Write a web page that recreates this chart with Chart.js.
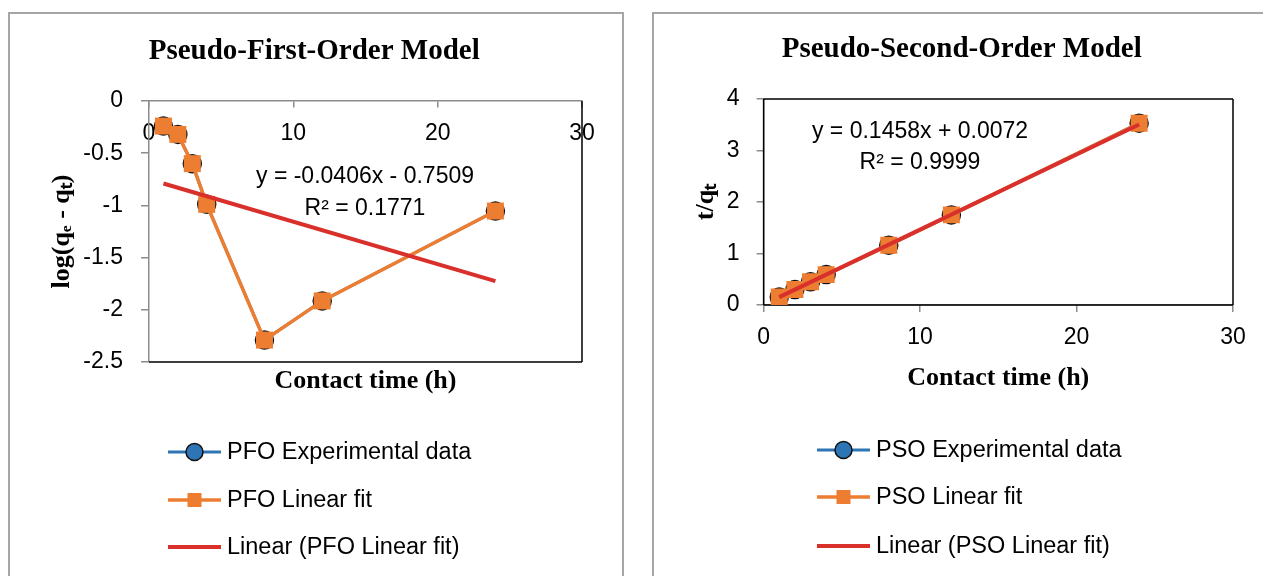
<!DOCTYPE html>
<html>
<head>
<meta charset="utf-8">
<script src="https://cdn.jsdelivr.net/npm/chart.js@4.4.1/dist/chart.umd.min.js"></script>
<style>
  html, body { margin: 0; padding: 0; background: #fff; }
  body { width: 1263px; height: 576px; overflow: hidden; position: relative; }
  .frame { position: absolute; border: 2px solid #a6a6a6; box-sizing: border-box; }
  #frameL { left: 8px; top: 12px; width: 616px; height: 600px; }
  #frameR { left: 652px; top: 12px; width: 700px; height: 600px; }
  .box { position: absolute; top: 0; height: 576px; }
  #boxL { left: 0; width: 635px; }
  #boxR { left: 640px; width: 623px; }
</style>
</head>
<body>
<div class="frame" id="frameL"></div>
<div class="frame" id="frameR"></div>
<div class="box" id="boxL"><canvas id="pfoChart"></canvas></div>
<div class="box" id="boxR"><canvas id="psoChart"></canvas></div>

<script>
// contact time (h)
const contactTime = [1, 2, 3, 4, 8, 12, 24];

// pseudo-first-order: log(qe - qt)
const pfoValues = [-0.24, -0.32, -0.60, -0.99, -2.29, -1.915, -1.054];
const pfoTrendTime = [1, 24];
const pfoTrendValues = [-0.79, -1.725];

// pseudo-second-order: t/qt
const psoValues = [0.155, 0.30, 0.45, 0.59, 1.16, 1.75, 3.53];
const psoTrendTime = [1, 24];
const psoTrendValues = [0.153, 3.506];

const xTicks = [0, 10, 20, 30];
const pfoYTicks = [0, -0.5, -1, -1.5, -2, -2.5];
const psoYTicks = [0, 1, 2, 3, 4];

const SANS = '"Liberation Sans", Arial, sans-serif';
const SERIF = '"Liberation Serif", "Times New Roman", serif';
const BLUE = '#2E75B6', ORANGE = '#ED7D31', RED = '#D9302C';
const AXIS_GRAY = '#8c8c8c';

Chart.defaults.font.family = SANS;
Chart.defaults.font.size = 23;
Chart.defaults.color = '#000';

const pts = (xs, ys) => xs.map((x, i) => ({ x: x, y: ys[i] }));

function makeDatasets(prefix, values, trendX, trendY) {
  return [
    {
      label: prefix + ' Experimental data',
      data: pts(contactTime, values),
      showLine: true,
      borderColor: BLUE, borderWidth: 3,
      pointStyle: 'circle', pointRadius: 9,
      pointBackgroundColor: BLUE, pointBorderColor: '#111', pointBorderWidth: 1.5,
      order: 3
    },
    {
      label: prefix + ' Linear fit',
      data: pts(contactTime, values),
      showLine: true,
      borderColor: ORANGE, borderWidth: 3.5,
      pointStyle: 'rect', pointRadius: 12,
      pointBackgroundColor: ORANGE, pointBorderColor: ORANGE, pointBorderWidth: 0,
      order: 2
    },
    {
      label: 'Linear (' + prefix + ' Linear fit)',
      data: pts(trendX, trendY),
      showLine: true,
      borderColor: RED, borderWidth: 4,
      pointRadius: 0,
      order: 1
    }
  ];
}

// border around the plot area (Excel-style)
const plotFrame = {
  id: 'plotFrame',
  beforeDatasetsDraw(chart, args, opts) {
    const { ctx, chartArea: a } = chart;
    ctx.save();
    ctx.strokeStyle = '#000';
    ctx.lineWidth = 1.5;
    ctx.beginPath();
    (opts.sides || []).forEach(s => {
      if (s === 'top') { ctx.moveTo(a.left, a.top); ctx.lineTo(a.right, a.top); }
      if (s === 'bottom') { ctx.moveTo(a.left, a.bottom); ctx.lineTo(a.right, a.bottom); }
      if (s === 'left') { ctx.moveTo(a.left, a.top); ctx.lineTo(a.left, a.bottom); }
      if (s === 'right') { ctx.moveTo(a.right, a.top); ctx.lineTo(a.right, a.bottom); }
    });
    ctx.stroke();
    ctx.restore();
  }
};

// trendline equation labels
const equationText = {
  id: 'equationText',
  afterDatasetsDraw(chart, args, opts) {
    const ctx = chart.ctx;
    ctx.save();
    ctx.font = '23px ' + SANS;
    ctx.fillStyle = '#000';
    ctx.textAlign = 'center';
    ctx.textBaseline = 'middle';
    (opts.lines || []).forEach(l => ctx.fillText(l.text, l.x, l.y));
    ctx.restore();
  }
};

// legend with line + marker symbols, stacked vertically
const lineLegend = {
  id: 'lineLegend',
  afterDraw(chart, args, opts) {
    const ctx = chart.ctx;
    ctx.save();
    chart.data.datasets.forEach((ds, i) => {
      const y = opts.rows[i], x0 = opts.x, x1 = opts.x + 53, xm = (x0 + x1) / 2;
      ctx.strokeStyle = ds.borderColor;
      ctx.lineWidth = ds.borderWidth;
      ctx.beginPath(); ctx.moveTo(x0, y); ctx.lineTo(x1, y); ctx.stroke();
      if (ds.pointStyle === 'circle') {
        ctx.fillStyle = ds.pointBackgroundColor;
        ctx.strokeStyle = ds.pointBorderColor;
        ctx.lineWidth = 1.5;
        ctx.beginPath(); ctx.arc(xm, y, 8.5, 0, Math.PI * 2); ctx.fill(); ctx.stroke();
      } else if (ds.pointStyle === 'rect') {
        ctx.fillStyle = ds.pointBackgroundColor;
        ctx.fillRect(xm - 7, y - 7, 14, 14);
      }
      ctx.font = '23.5px ' + SANS;
      ctx.fillStyle = '#000';
      ctx.textBaseline = 'middle';
      ctx.textAlign = 'left';
      ctx.fillText(ds.label, x1 + 6, y + 1);
    });
    ctx.restore();
  }
};

const titleFont = { family: SERIF, size: 29, weight: 'bold' };
const axisTitleFont = { family: SERIF, size: 26, weight: 'bold' };

function tickGrid(len) {
  return { display: true, drawOnChartArea: false, drawTicks: true, tickLength: len, color: AXIS_GRAY, lineWidth: 1.5 };
}
const grayBorder = { display: true, color: AXIS_GRAY, width: 1.5 };
const noPadX = s => { s.paddingLeft = 0; s.paddingRight = 0; };
const noPadY = s => { s.paddingTop = 0; s.paddingBottom = 0; };

// ---- Pseudo-first-order ----
new Chart(document.getElementById('pfoChart'), {
  type: 'scatter',
  data: { datasets: makeDatasets('PFO', pfoValues, pfoTrendTime, pfoTrendValues).map(d => Object.assign(d, { xAxisID: 'x', yAxisID: 'y' })) },
  options: {
    responsive: true,
    maintainAspectRatio: false,
    animation: false,
    layout: { padding: { left: 46.4, right: 53, top: 0, bottom: 179 } },
    plugins: {
      legend: { display: false },
      tooltip: { enabled: false },
      title: { display: true, text: 'Pseudo-First-Order Model', font: titleFont, color: '#000', padding: { top: 34.6, bottom: 31.6 } },
      plotFrame: { sides: ['right', 'bottom'] },
      equationText: { lines: [
        { text: 'y = -0.0406x - 0.7509', x: 365, y: 177 },
        { text: 'R² = 0.1771', x: 365, y: 209 }
      ] },
      lineLegend: { x: 168, rows: [452, 500, 547] }
    },
    scales: {
      x: {
        type: 'linear', position: { y: 0 },
        min: xTicks[0], max: xTicks[xTicks.length - 1],
        afterBuildTicks: s => { s.ticks = xTicks.map(v => ({ value: v })); },
        afterFit: noPadX,
        ticks: { padding: 13, callback: v => String(v) },
        grid: tickGrid(6),
        border: grayBorder
      },
      x2: {
        type: 'linear', position: 'bottom',
        min: xTicks[0], max: xTicks[xTicks.length - 1],
        afterFit: s => { noPadX(s); s.height = 35; },
        ticks: { display: false },
        grid: { display: false },
        border: { display: false },
        title: { display: true, text: 'Contact time (h)', font: axisTitleFont, color: '#000', padding: 0 }
      },
      y: {
        type: 'linear', position: 'left',
        min: -2.5, max: 0,
        afterBuildTicks: s => { s.ticks = pfoYTicks.map(v => ({ value: v })); },
        afterFit: s => { noPadY(s); s.width = 102.6; },
        ticks: { padding: 18, callback: v => String(v) },
        grid: tickGrid(8),
        border: grayBorder,
        title: { display: true, text: 'log(qₑ - qₜ)', font: axisTitleFont, color: '#000', padding: 0 }
      }
    }
  },
  plugins: [plotFrame, equationText, lineLegend]
});

// ---- Pseudo-second-order ----
new Chart(document.getElementById('psoChart'), {
  type: 'scatter',
  data: { datasets: makeDatasets('PSO', psoValues, psoTrendTime, psoTrendValues) },
  options: {
    responsive: true,
    maintainAspectRatio: false,
    animation: false,
    layout: { padding: { left: 50.4, right: 30, top: 0, bottom: 182.4 } },
    plugins: {
      legend: { display: false },
      tooltip: { enabled: false },
      title: { display: true, text: 'Pseudo-Second-Order Model', font: titleFont, color: '#000', padding: { top: 32.6, bottom: 31.6 } },
      plotFrame: { sides: ['top', 'right', 'bottom', 'left'] },
      equationText: { lines: [
        { text: 'y = 0.1458x + 0.0072', x: 280, y: 132 },
        { text: 'R² = 0.9999', x: 280, y: 163 }
      ] },
      lineLegend: { x: 177, rows: [450, 497, 546] }
    },
    scales: {
      x: {
        type: 'linear', position: 'bottom',
        min: xTicks[0], max: xTicks[xTicks.length - 1],
        afterBuildTicks: s => { s.ticks = xTicks.map(v => ({ value: v })); },
        afterFit: s => { noPadX(s); s.height = 88.6; },
        ticks: { padding: 12, callback: v => String(v) },
        grid: tickGrid(7),
        border: grayBorder,
        title: { display: true, text: 'Contact time (h)', font: axisTitleFont, color: '#000', padding: 0 }
      },
      y: {
        type: 'linear', position: 'left',
        min: 0, max: 4,
        afterBuildTicks: s => { s.ticks = psoYTicks.map(v => ({ value: v })); },
        afterFit: s => { noPadY(s); s.width = 73.2; },
        ticks: { padding: 17, callback: v => String(v) },
        grid: tickGrid(7),
        border: grayBorder,
        title: { display: true, text: 't/qₜ', font: axisTitleFont, color: '#000', padding: 0 }
      }
    }
  },
  plugins: [plotFrame, equationText, lineLegend]
});
</script>
</body>
</html>
